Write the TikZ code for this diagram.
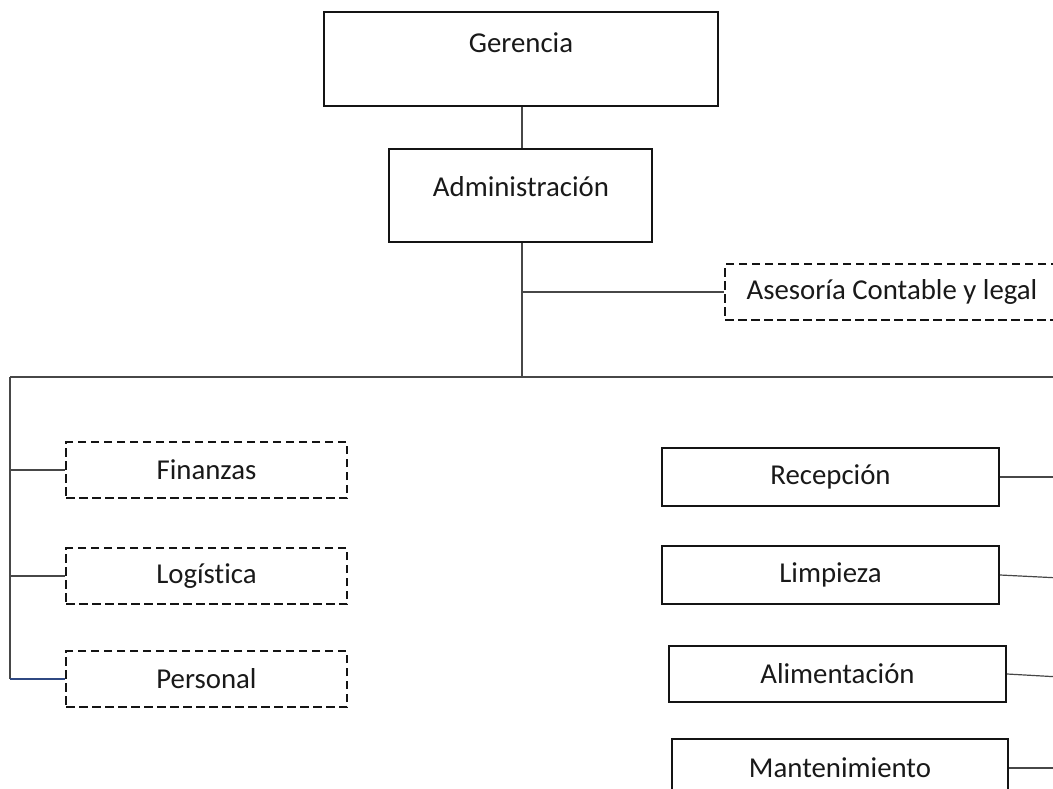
\documentclass[tikz,border=0pt]{standalone}
\usepackage{fontspec}
\setmainfont[Ligatures=NoCommon]{Carlito}
\usetikzlibrary{calc}
\begin{document}
\begin{tikzpicture}[x=1pt,y=-1pt,
  box/.style={draw=black!92, line width=2.2pt, fill=white, inner sep=0pt,
              font=\fontsize{28.8}{34}\selectfont, text=black!90},
  dbox/.style={box, dash pattern=on 8.5pt off 4.5pt},
  caption/.style={font=\fontsize{28.8}{34}\selectfont, text=black!90, inner sep=0pt, anchor=base},
  link/.style={draw=black!72, line width=1.2pt},
  ]
\useasboundingbox (0,0) rectangle (1053,788);
\clip (0,0) rectangle (1053,788);

% top levels
\node[box, minimum width=394pt, minimum height=94pt] (ger) at (521,59) {};
\node[caption] (gerT) at (521,52) {Gerencia};
\node[box, minimum width=263pt, minimum height=93pt] (adm) at (520.5,195.5) {};
\node[caption] (admT) at (521,196) {Administración};

% staff advisory
\node[dbox, minimum width=334pt, minimum height=56pt] (ase) at (892,292) {Asesoría Contable y legal};

% left branch
\node[dbox, minimum width=281pt, minimum height=56pt] (fin) at (206.5,470) {Finanzas};
\node[dbox, minimum width=281pt, minimum height=56pt] (log) at (206.5,576) {Logística};
\node[dbox, minimum width=281pt, minimum height=56pt] (per) at (206.5,679) {Personal};

% right branch
\node[box, minimum width=337pt, minimum height=58pt] (rec) at (830.5,477) {Recepción};
\node[box, minimum width=337pt, minimum height=58pt] (lim) at (830.5,575) {Limpieza};
\node[box, minimum width=337pt, minimum height=56pt] (ali) at (837.5,674) {Alimentación};
\node[box, minimum width=336pt, minimum height=58pt] (man) at (840,768) {Mantenimiento};

% bus coordinates
\coordinate (busL) at (10,377);
\coordinate (busR) at (1060,377);
\coordinate (hub) at (522,377);

% connectors
\draw[link] (ger.south -| hub) -- (adm.north -| hub);
\draw[link] (adm.south -| hub) -- (hub);
\draw[link] (hub |- ase.west) -- (ase.west);
\draw[link] (busL) -- (busR);
\draw[link] (busL) -- (busL |- per.west);
\draw[link] (busL |- fin.west) -- (fin.west);
\draw[link] (busL |- log.west) -- (log.west);
\draw[link, draw={rgb,255:red,47;green,72;blue,130}] (busL |- per.west) -- (per.west);
\draw[link] (rec.east) -- (rec.east -| busR);
\draw[link] (lim.east) -- ($(lim.east -| busR)+(0,3)$);
\draw[link] (ali.east) -- ($(ali.east -| busR)+(0,3)$);
\draw[link] (man.east) -- (man.east -| busR);
\end{tikzpicture}
\end{document}
